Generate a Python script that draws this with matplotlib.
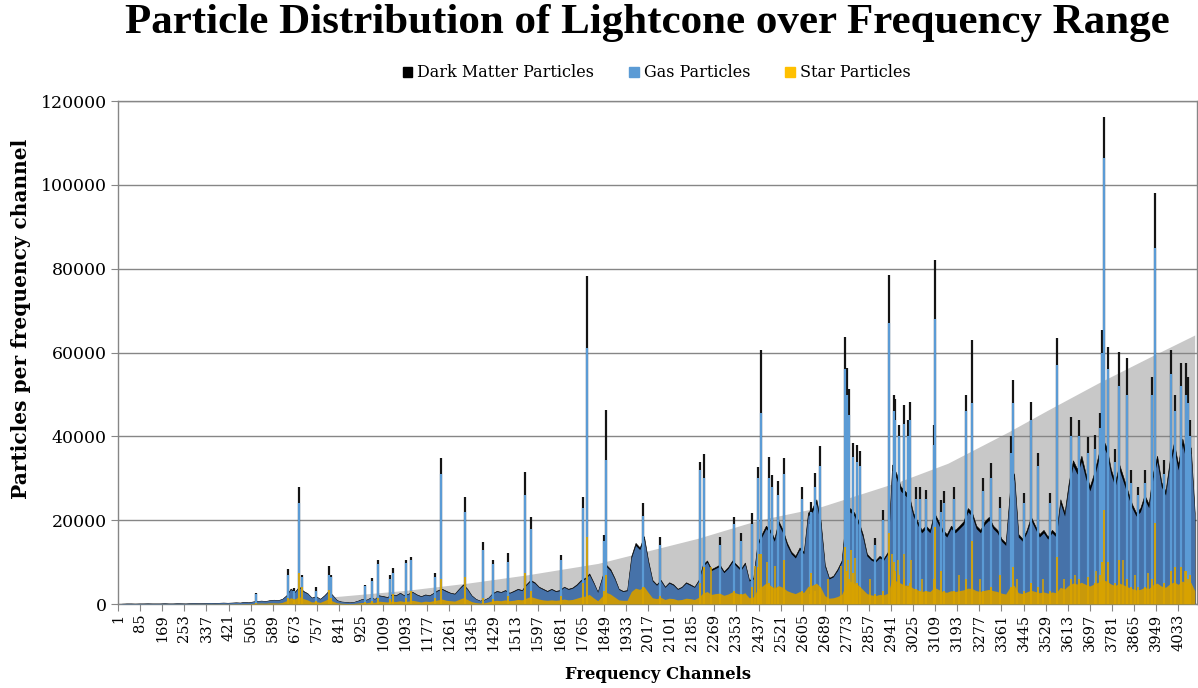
import matplotlib
matplotlib.use("Agg")
import matplotlib.pyplot as plt
import numpy as np
from matplotlib.patches import Patch

plt.rcParams["font.family"] = ["DejaVu Serif"]

# dense part of each series, sampled every 16 channels
base_channels = np.append(np.arange(1, 4097, 16), 4096)

gas_base = [
    0, 100, 150, 150, 120, 150, 150, 180, 150, 150, 150, 200, 150, 150, 200, 180, 150, 200, 250, 200,
    200, 250, 300, 250, 300, 350, 300, 350, 400, 350, 500, 400, 600, 700, 800, 700, 900, 1000,
    900, 1200, 2000, 3500, 2800, 4000, 3000, 2500, 1500, 1800, 1200, 2000, 3000, 2000, 900,
    600, 500, 400, 500, 800, 1200, 1000, 1500, 1200, 2000, 1800, 1600, 2200, 2000, 2600,
    2000, 2400, 2800, 2200, 1800, 2200, 2000, 2600, 3200, 3500, 3000, 2600, 2400, 3500, 4500,
    3500, 2000, 1200, 800, 1000, 1500, 2500, 3000, 2800, 3200, 2600, 3000, 3500, 3200, 4500,
    5500, 5000, 4000, 3500, 3000, 3500, 3000, 3200, 4000, 3500, 3800, 4500, 5500, 6000, 7000,
    5000, 2800, 6000, 9000, 8000, 6000, 3500, 3000, 3200, 11000, 14000, 13000, 15500, 10000, 5500,
    4500, 5500, 4000, 5000, 4500, 3500, 4000, 5000, 4500, 4000, 5500, 9000, 10000, 8000, 8500,
    9000, 7500, 8500, 10000, 9000, 8000, 9500, 5500, 6000, 14000, 16000, 18000, 17000, 15000, 19000,
    17000, 14000, 12000, 11000, 13000, 12000, 21000, 22000, 24000, 19000, 9000, 6000, 6500, 8000, 10000,
    20000, 22000, 21000, 19000, 16000, 11500, 10500, 10000, 11000, 10500, 12000, 32000, 30000, 27000, 26000,
    25000, 21000, 19000, 17000, 18000, 17000, 21000, 19000, 17000, 16000, 18000, 17000, 18000, 19000, 22000,
    21000, 18000, 17000, 19000, 20000, 18000, 17000, 15000, 14000, 26000, 30000, 16000, 15000, 17000, 20000,
    18000, 16000, 17000, 15500, 17000, 16000, 24000, 21000, 28000, 33000, 31000, 34000, 30000, 27000, 30000,
    34000, 38000, 36000, 31000, 28000, 32000, 29000, 26000, 23000, 21000, 22000, 25000, 23000, 30000, 34000,
    28000, 26000, 33000, 37000, 32000, 38000, 34000, 36000, 21000,
]

dm_base = [
    0, 105, 155, 155, 125, 155, 155, 185, 155, 155, 155, 210, 155, 155, 210, 185, 155, 210, 260, 210,
    210, 260, 310, 260, 310, 365, 310, 365, 415, 365, 520, 415, 625, 730, 830, 730, 935, 1040,
    940, 1250, 2100, 3700, 2950, 4200, 3150, 2600, 1560, 1900, 1250, 2100, 3150, 2100, 940,
    625, 520, 415, 520, 830, 1250, 1040, 1560, 1250, 2100, 1900, 1700, 2300, 2100, 2700,
    2100, 2500, 2900, 2300, 1900, 2300, 2100, 2700, 3350, 3650, 3150, 2700, 2500, 3650, 4700,
    3650, 2100, 1250, 830, 1040, 1560, 2600, 3150, 2900, 3350, 2700, 3150, 3650, 3350, 4700,
    5750, 5200, 4150, 3650, 3150, 3650, 3150, 3350, 4150, 3650, 3950, 4700, 5750, 6250, 7300,
    5200, 2900, 6250, 9400, 8350, 6250, 3650, 3150, 3350, 11500, 14600, 13500, 16200, 10400, 5750,
    4700, 5750, 4150, 5200, 4700, 3650, 4150, 5200, 4700, 4150, 5750, 9400, 10400, 8350, 8850,
    9400, 7800, 8850, 10400, 9400, 8350, 9900, 5750, 6250, 14600, 16700, 18700, 17700, 15600, 19800,
    17700, 14600, 12500, 11500, 13500, 12500, 21800, 22900, 25000, 19800, 9400, 6250, 6750, 8350, 10400,
    20800, 22900, 21800, 19800, 16700, 12000, 10900, 10400, 11500, 10900, 12500, 33300, 31200, 28100, 27000,
    26000, 21800, 19800, 17700, 18700, 17700, 21800, 19800, 17700, 16700, 18700, 17700, 18700, 19800, 22900,
    21800, 18700, 17700, 19800, 20800, 18700, 17700, 15600, 14600, 27000, 31200, 16700, 15600, 17700, 20800,
    18700, 16700, 17700, 16100, 17700, 16700, 25000, 21800, 29100, 34300, 32200, 35400, 31200, 28100, 31200,
    35400, 39500, 37400, 32200, 29100, 33300, 30200, 27000, 23900, 21800, 22900, 26000, 23900, 31200, 35400,
    29100, 27000, 34300, 38500, 33300, 39500, 35400, 37400, 21800,
]

star_base = [
    0, 10, 20, 20, 15, 20, 20, 25, 20, 20, 20, 30, 20, 20, 30, 25, 20, 30, 40, 30,
    30, 40, 50, 40, 50, 60, 50, 60, 80, 60, 100, 80, 150, 200, 250, 200, 300, 300,
    250, 400, 800, 1500, 1200, 1800, 1300, 1000, 500, 600, 400, 800, 1300, 700, 300,
    200, 150, 120, 150, 250, 400, 300, 500, 400, 700, 600, 500, 700, 600, 800,
    600, 700, 900, 700, 500, 700, 600, 800, 1000, 1200, 900, 800, 700, 1100, 1500,
    1100, 600, 350, 250, 300, 500, 800, 900, 800, 1000, 800, 900, 1100, 1000, 1400,
    1800, 1500, 1200, 1000, 900, 1000, 900, 1000, 1200, 1000, 1100, 1400, 1700, 1900, 2300,
    1500, 800, 1800, 2800, 2400, 1700, 1000, 900, 900, 3000, 3800, 3500, 4200, 2800, 1500,
    1300, 1600, 1100, 1400, 1300, 1000, 1100, 1400, 1300, 1100, 1600, 2600, 3000, 2300, 2500,
    2600, 2100, 2400, 2900, 2600, 2300, 2700, 1500, 1700, 3500, 4200, 5000, 4500, 3800, 4400,
    4000, 3200, 2800, 2500, 3000, 2800, 4200, 4500, 5000, 4000, 2000, 1400, 1500, 1800, 2300,
    4500, 5500, 5000, 4500, 3500, 2500, 2200, 2000, 2300, 2200, 2600, 6000, 5500, 5000, 4500,
    4500, 3800, 3400, 3000, 3200, 3000, 4000, 3500, 3000, 2800, 3200, 3000, 3200, 3400, 3800,
    3700, 3200, 3000, 3300, 3500, 3200, 3000, 2600, 2400, 4000, 4500, 2700, 2500, 2900, 3300,
    3000, 2700, 2900, 2600, 2900, 2700, 4000, 3600, 4500, 5000, 4800, 5200, 4700, 4300, 4800,
    5200, 5800, 5500, 4800, 4400, 5000, 4600, 4100, 3700, 3400, 3500, 4000, 3700, 4600, 5000,
    4300, 4000, 4800, 5300, 4700, 5500, 5000, 5200, 3200,
]

# single-channel peaks (all three species)
peak_channels = [
    526, 647, 670, 689, 700, 754, 803, 811, 940, 967, 990, 1035, 1047, 1096, 1115, 1207, 1229,
    1320, 1389, 1427, 1484, 1549, 1572, 1686, 1770, 1785, 1849, 1857, 1998, 2062, 2214, 2229,
    2292, 2344, 2412, 2435, 2447, 2476, 2488, 2511, 2604, 2631, 2652, 2671, 2765, 2773, 2781,
    2796, 2811, 2823, 2910, 2934, 2952, 2956, 2971, 2990, 3005, 3013, 3074, 3104, 3108, 3142,
    3180, 3226, 3249, 3291, 3321, 3397, 3404, 3446, 3473, 3500, 3546, 3572, 3625, 3656, 3736,
    3743, 3751, 3766, 3793, 3808, 3838, 3907, 3933, 3945, 4005, 4043, 4062, 4070,
    2370, 2534, 2637, 2880, 3036, 3050, 3131, 3355, 3690, 3716, 3853, 3880, 3979, 4020, 4078,
]
peak_dm = [
    2600, 8300, 3800, 27900, 6900, 4000, 9000, 7000, 4500, 6100, 10500, 6900, 8600, 10500, 11200, 7400, 34800,
    25500, 14800, 10500, 12100, 31500, 20800, 11700, 25500, 78300, 16500, 46300, 24100, 16000, 33900, 35800,
    16000, 20800, 21700, 32700, 60600, 35100, 30800, 29400, 27900, 20800, 31200, 37700, 63700, 56300, 51300,
    38400, 38000, 36600, 22400, 78500, 49900, 49000, 42700, 47500, 44000, 48200, 27200, 42700, 82000, 27000,
    28000, 49900, 63000, 30000, 33600, 40000, 53400, 26500, 48200, 36000, 26500, 63500, 44600, 43900, 45600,
    65400, 116200, 61300, 37000, 60100, 58700, 32000, 54200, 98100, 60600, 57500, 57500, 54200,
    16900, 34800, 24300, 15700, 27900, 27900, 24800, 25500, 39900, 40300, 32000, 28000, 34400, 50000, 43900,
]
peak_gas = [
    2400, 7000, 3000, 24100, 6500, 3200, 7000, 6500, 4200, 5500, 9500, 6000, 7500, 9800, 10500, 6500, 31000,
    22000, 13000, 9500, 10000, 26000, 18000, 10500, 23000, 61000, 15000, 34400, 21000, 14000, 32000, 30000,
    14000, 19000, 19000, 30000, 45600, 30000, 28000, 26000, 25000, 19000, 28000, 33000, 56000, 50000, 45000,
    35000, 34000, 33000, 20000, 67000, 46000, 44000, 40000, 43000, 40000, 44000, 25000, 38000, 68000, 24000,
    25000, 46000, 48000, 27000, 30000, 36000, 48000, 24000, 44000, 33000, 24000, 57000, 40000, 40000, 42000,
    60000, 106400, 56000, 34000, 52000, 50000, 29000, 50000, 85000, 55000, 52000, 50000, 48000,
    15000, 31000, 22000, 14000, 25000, 25000, 22000, 23000, 36000, 37000, 29000, 26000, 31000, 46000, 40000,
]
peak_star = [
    300, 1500, 1000, 7400, 4000, 800, 3300, 1500, 600, 800, 1500, 1200, 2500, 1500, 3000, 1500, 6000,
    6400, 1500, 1200, 2000, 7300, 3000, 2000, 5000, 16000, 3000, 7000, 4000, 2000, 5000, 8800,
    2500, 3000, 4000, 8800, 12000, 5000, 4000, 4000, 3000, 2500, 3000, 4000, 13600, 8000, 6000,
    7400, 5000, 4000, 3000, 16900, 10000, 8000, 7000, 6000, 4000, 5000, 3000, 6000, 18400, 3000,
    3000, 6000, 15000, 3000, 4000, 4000, 8800, 3000, 5000, 4000, 3000, 11200, 6000, 6000, 7000,
    10000, 22400, 10000, 5000, 10500, 6000, 4000, 6000, 19300, 8000, 8800, 8000, 6000,
    2500, 10500, 7400, 2500, 3500, 3000, 8000, 7000, 6500, 5000, 4000, 4000, 5000, 8800, 7000,
]

# extra star-only peaks
star_peak_channels = [
    2256, 2423, 2440, 2470, 2500, 2700, 2750, 2777, 2790, 2803, 2860, 2945, 2967, 2990,
    3017, 3060, 3200, 3280, 3420, 3473, 3520, 3600, 3640, 3720, 3823, 3870, 3920, 4060,
]
star_peak_values = [
    8800, 9000, 12000, 10000, 9000, 6000, 9000, 10500, 12900, 11000, 6000, 12000, 10500, 12000,
    10500, 6000, 7000, 6000, 6000, 5000, 6000, 6000, 7000, 8000, 10500, 7000, 7500, 8000,
]

# smooth reference envelope drawn behind the particle counts
envelope_channels = [1, 300, 600, 849, 1100, 1331, 1560, 1826, 2207, 2435, 2663, 2967, 3157, 3385, 3538, 3728, 3918, 4096]
envelope_values = [0, 150, 700, 1900, 3300, 5000, 7000, 9700, 15700, 20000, 23000, 29100, 33600, 41000, 46300, 52700, 58700, 64200]

tick_channels = list(range(1, 4097, 84))

fig, ax = plt.subplots(figsize=(11.98, 6.88), dpi=100)
fig.subplots_adjust(left=0.0985, right=0.999, top=0.853, bottom=0.122)

ax.fill_between(envelope_channels, envelope_values, color="#c8c8c8", lw=0, zorder=0.5)

ax.fill_between(base_channels, dm_base, color="#000000", lw=0.4, edgecolor="#000000", zorder=2)
ax.vlines(peak_channels, 0, peak_dm, color="#141414", lw=1.6, zorder=2.1)

ax.fill_between(base_channels, gas_base, color="#4672a9", lw=0, zorder=3)
ax.vlines(peak_channels, 0, peak_gas, color="#5b9bd5", lw=1.6, zorder=3.1)

ax.fill_between(base_channels, star_base, color="#c9990a", lw=0, zorder=4)
ax.vlines(peak_channels, 0, peak_star, color="#d9a300", lw=1.3, zorder=4.1)
ax.vlines(star_peak_channels, 0, star_peak_values, color="#d9a300", lw=1.1, zorder=4.1)

ax.set_xlim(0.5, 4104)
ax.set_ylim(0, 120000)
ax.set_yticks(range(0, 120001, 20000))
ax.set_xticks(tick_channels)
ax.set_xticklabels([str(c) for c in tick_channels], rotation=90)
ax.tick_params(axis="x", labelsize=10.5, length=5, color="#868686", pad=2)
ax.tick_params(axis="y", labelsize=12.5, length=5, color="#868686", pad=3)
ax.yaxis.grid(True, color="#868686", lw=1.0, zorder=1)
ax.set_axisbelow(True)
for side in ["left", "bottom", "top", "right"]:
    ax.spines[side].set_color("#868686")
    ax.spines[side].set_linewidth(1.0)

fig.text(0.549, 0.019, "Frequency Channels", fontsize=11.8, fontweight="bold",
         ha="center", va="center")
fig.text(0.0175, 0.536, "Particles per frequency channel", fontsize=14.5, fontweight="bold",
         ha="center", va="center", rotation=90)

fig.text(0.540, 0.966, "Particle Distribution of Lightcone over Frequency Range",
         family=["Liberation Serif", "DejaVu Serif"], fontsize=31, fontweight="bold",
         ha="center", va="center")

handles = [Patch(color="#000000"), Patch(color="#5b9bd5"), Patch(color="#ffc000")]
labels = ["Dark Matter Particles", "Gas Particles", "Star Particles"]
fig.legend(handles, labels, loc="center", bbox_to_anchor=(0.548, 0.894), ncol=3,
           frameon=False, fontsize=11.5, handlelength=0.6, handleheight=0.6,
           handletextpad=0.3, columnspacing=2.2)

fig.savefig("out.png", dpi=100)
